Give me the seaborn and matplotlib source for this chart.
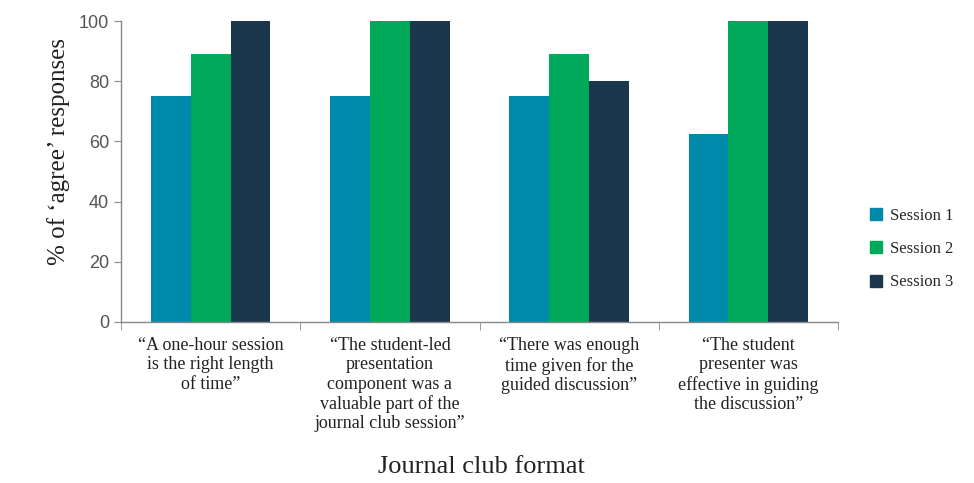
import matplotlib
matplotlib.use("Agg")
import matplotlib.pyplot as plt
import seaborn as sns
import pandas as pd
from matplotlib.lines import Line2D

categories = [
    "\u201cA one-hour session\nis the right length\nof time\u201d",
    "\u201cThe student-led\npresentation\ncomponent was a\nvaluable part of the\njournal club session\u201d",
    "\u201cThere was enough\ntime given for the\nguided discussion\u201d",
    "\u201cThe student\npresenter was\neffective in guiding\nthe discussion\u201d",
]
sessions = ["Session 1", "Session 2", "Session 3"]
session1 = [75.0, 75.0, 75.0, 62.5]
session2 = [88.9, 100.0, 88.9, 100.0]
session3 = [100.0, 100.0, 80.0, 100.0]
colors = ["#0089AB", "#00A859", "#1B374D"]

rows = []
for s, vals in zip(sessions, [session1, session2, session3]):
    for c, v in zip(categories, vals):
        rows.append({"cat": c, "session": s, "val": v})
df = pd.DataFrame(rows)

sns.set_style("white")
serif = ["Liberation Serif", "DejaVu Serif"]

fig = plt.figure(figsize=(9.74, 4.83), dpi=100)
ax = fig.add_axes([121/974, 1-322/483, (838-121)/974, (322-21)/483])
sns.barplot(data=df, x="cat", y="val", hue="session", palette=colors,
            width=0.667, ax=ax, saturation=1, legend=False, edgecolor="none")

ax.set_ylim(0, 100)
ax.set_xlim(-0.5, 3.5)
ax.set_yticks([0, 20, 40, 60, 80, 100])
ax.tick_params(axis="y", labelsize=13, labelcolor="#555555", length=5, color="#888888",
               direction="out", left=True)
for t in ax.get_yticklabels():
    t.set_family(["Liberation Sans", "DejaVu Sans"])
ax.set_xticks(range(4))
ax.set_xticklabels(categories, family=serif, fontsize=13, color="#222222", linespacing=1.17)
ax.tick_params(axis="x", length=0, pad=11)
ax.set_xticks([-0.5, 0.5, 1.5, 2.5, 3.5], minor=True)
ax.tick_params(axis="x", which="minor", length=6, color="#888888", direction="out", bottom=True)

for side in ["top", "right"]:
    ax.spines[side].set_visible(False)
for side in ["left", "bottom"]:
    ax.spines[side].set_color("#888888")
    ax.spines[side].set_linewidth(1.0)

ax.set_ylabel("% of \u2018agree\u2019 responses", family=serif, fontsize=18, color="#222222")
ax.yaxis.set_label_coords(-0.071, 0.565)
ax.set_xlabel("")
fig.text(481/974, 1-467/483, "Journal club format", family=serif, fontsize=19,
         color="#222222", ha="center", va="center")

handles = [Line2D([0], [0], marker="s", linestyle="none", markersize=8,
                  markerfacecolor=c, markeredgecolor=c) for c in colors]
fig.legend(handles, sessions, loc="center left", bbox_to_anchor=(853/974, 1-249/483),
           frameon=False, prop={"family": serif, "size": 12}, handletextpad=0.3,
           labelspacing=1.05, handlelength=1.0)

fig.savefig("out.png", dpi=100, facecolor="white")
